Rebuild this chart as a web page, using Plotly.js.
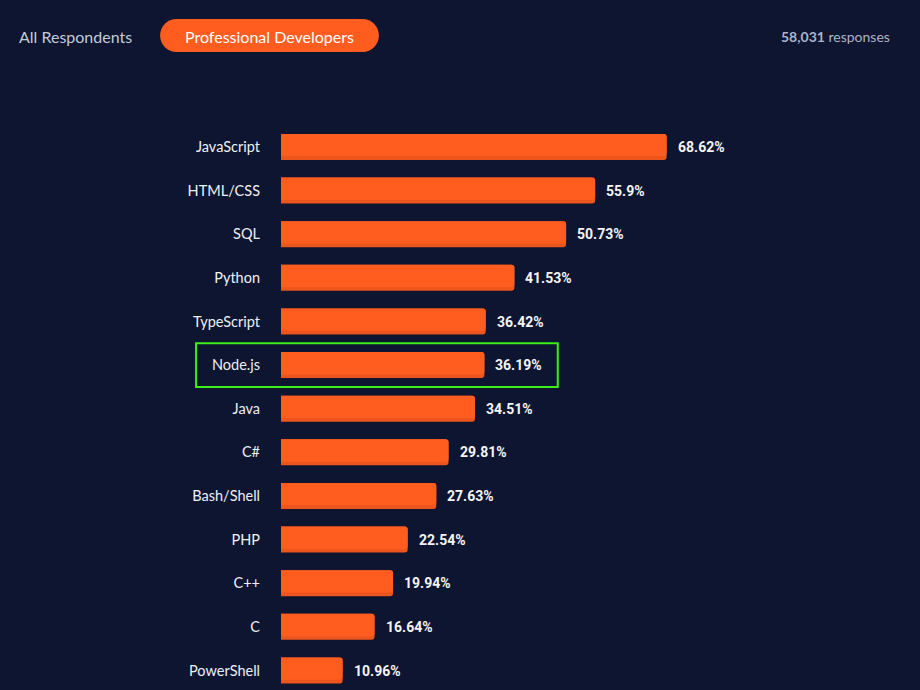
<!DOCTYPE html>
<html>
<head>
<meta charset="utf-8">
<script src="https://cdn.plot.ly/plotly-3.0.1.min.js"></script>
<style>
html,body{margin:0;padding:0;background:#0d1530;}
#chart{width:920px;height:690px;}
</style>
</head>
<body>
<div id="chart"></div>
<script>
const languages = ["JavaScript","HTML/CSS","SQL","Python","TypeScript","Node.js","Java","C#","Bash/Shell","PHP","C++","C","PowerShell"];
const percents = [68.62,55.9,50.73,41.53,36.42,36.19,34.51,29.81,27.63,22.54,19.94,16.64,10.96];
const valueLabels = ["68.62%","55.9%","50.73%","41.53%","36.42%","36.19%","34.51%","29.81%","27.63%","22.54%","19.94%","16.64%","10.96%"];
const highlighted = "Node.js";
const responses = "58,031";

const W = 920, H = 690;
const ML = 281, MR = 76.5;
const PW = W - ML - MR;
const px = p => (p - ML) / PW;
const py = p => 1 - p / H;

const BG = "#0d1530";
const ORANGE = "#ff5d20";
const ORANGE_DARK = "#ec551e";

const barW = 0.596;
const shadeW = 0.085;

const barShadow = {
  type: "bar", orientation: "h",
  x: percents, y: languages,
  marker: {color: ORANGE_DARK, line: {width: 0}},
  width: barW, offset: -barW / 2,
  hoverinfo: "skip"
};
const bars = {
  type: "bar", orientation: "h",
  x: percents, y: languages,
  marker: {color: ORANGE, line: {width: 0}},
  width: barW - shadeW, offset: -barW / 2,
  hoverinfo: "skip"
};

const annotations = languages.map((l, i) => ({
  x: percents[i], y: l, xref: "x", yref: "y",
  text: valueLabels[i], showarrow: false, xanchor: "left", xshift: 9,
  font: {family: "Roboto", size: 14, color: "#f4f4f4", weight: 700}
}));

annotations.push({
  xref: "paper", yref: "paper", x: px(17), y: py(36), xanchor: "left", yanchor: "middle",
  text: "All Respondents", showarrow: false,
  font: {family: "Lato", size: 16, color: "#c3cbdb"}
});
annotations.push({
  xref: "paper", yref: "paper", x: px(269.5), y: py(36), xanchor: "center", yanchor: "middle",
  text: "Professional Developers", showarrow: false,
  font: {family: "Lato", size: 16, color: "#ffffff"}
});
annotations.push({
  xref: "paper", yref: "paper", x: px(893), y: py(37), xanchor: "right", yanchor: "middle",
  text: "<b>" + responses + "</b> responses", showarrow: false,
  font: {family: "Lato", size: 14, color: "#aab4c8"}
});

function pill(x0, y0, x1, y1) {
  const r = (y1 - y0) / 2, k = 0.5523 * r;
  const P = (a, b) => px(a) + "," + py(b);
  return "M" + P(x0 + r, y0) + " L" + P(x1 - r, y0) +
    " C" + P(x1 - r + k, y0) + " " + P(x1, y0 + r - k) + " " + P(x1, y0 + r) +
    " C" + P(x1, y0 + r + k) + " " + P(x1 - r + k, y1) + " " + P(x1 - r, y1) +
    " L" + P(x0 + r, y1) +
    " C" + P(x0 + r - k, y1) + " " + P(x0, y0 + r + k) + " " + P(x0, y0 + r) +
    " C" + P(x0, y0 + r - k) + " " + P(x0 + r - k, y0) + " " + P(x0 + r, y0) + " Z";
}

const hi = languages.indexOf(highlighted);
const shapes = [
  {type: "path", xref: "paper", yref: "paper", path: pill(160, 19, 379, 52),
   fillcolor: ORANGE, line: {width: 0}, layer: "below"},
  {type: "rect", xref: "paper", yref: "y",
   x0: px(196), x1: px(558), y0: hi - 0.5, y1: hi + 0.5,
   line: {color: "#3dee1a", width: 2}, fillcolor: "rgba(0,0,0,0)"}
];

const layout = {
  width: W, height: H,
  margin: {l: ML, r: MR, t: 0, b: 0, pad: 0},
  paper_bgcolor: BG, plot_bgcolor: BG,
  showlegend: false,
  barmode: "overlay",
  barcornerradius: 3,
  xaxis: {range: [0, 100], visible: false, fixedrange: true},
  yaxis: {
    type: "category",
    range: [12.447, -3.3696],
    showgrid: false, zeroline: false, showline: false, ticks: "",
    ticklabelstandoff: 20,
    tickfont: {family: "Lato", size: 14.5, color: "#eef0f4"},
    fixedrange: true
  },
  shapes: shapes,
  annotations: annotations
};

Plotly.newPlot("chart", [barShadow, bars], layout, {displayModeBar: false, staticPlot: true});
</script>
</body>
</html>
